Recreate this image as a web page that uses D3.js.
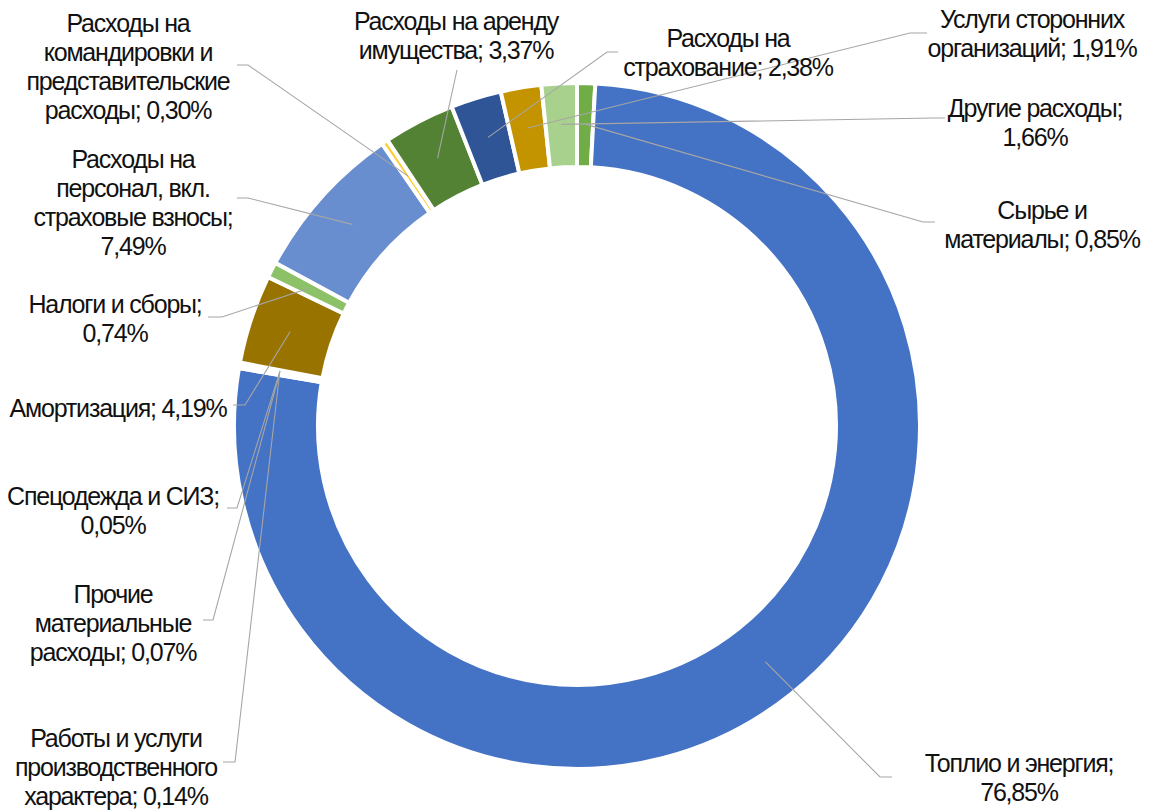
<!DOCTYPE html>
<html>
<head>
<meta charset="utf-8">
<script src="https://cdn.jsdelivr.net/npm/d3@7"></script>
<style>
  html, body { margin: 0; padding: 0; background: #fff; }
  svg { display: block; }
  text { font-family: "Liberation Sans", Arial, sans-serif; }
</style>
</head>
<body>
<svg id="chart" width="1149" height="811"></svg>
<script>
// ---- data ----
const categories = [
  "Сырье и материалы",
  "Топлио и энергия",
  "Работы и услуги производственного характера",
  "Прочие материальные расходы",
  "Спецодежда и СИЗ",
  "Амортизация",
  "Налоги и сборы",
  "Расходы на персонал, вкл. страховые взносы",
  "Расходы на командировки и представительские расходы",
  "Расходы на аренду имущества",
  "Расходы на страхование",
  "Услуги сторонних организаций",
  "Другие расходы"
];
const values = [0.85, 76.85, 0.14, 0.07, 0.05, 4.19, 0.74, 7.49, 0.30, 3.37, 2.38, 1.91, 1.66];
// words per label line (label text = "name; value")
const labelWordsPerLine = [
  [2, 2], [3, 1], [3, 1, 2], [1, 1, 2], [3, 1], [2], [3, 1],
  [2, 2, 2, 1], [2, 2, 1, 2], [3, 2], [2, 2], [2, 2], [2, 1]
];
const colors = [
  "#70AD47", "#4472C4", "#FFC000", "#43682B", "#264478", "#997300", "#8CC168",
  "#698ED0", "#FFCD33", "#548235", "#2F5597", "#C49400", "#A9D18E"
];

// ---- layout (label placement, like manually positioned Excel labels) ----
const labelLayout = [
  {cx: 1042, cy: 224, ax: 935, ay: 222, ex: 923},
  {cx: 1019, cy: 777, ax: 892, ay: 777, ex: 880},
  {cx: 116,  cy: 767, ax: 223, ay: 762, ex: 235},
  {cx: 113,  cy: 623, ax: 203, ay: 620, ex: 213},
  {cx: 113,  cy: 510, ax: 227, ay: 508, ex: 237},
  {cx: 118,  cy: 408, ax: 233, ay: 405, ex: 245},
  {cx: 115,  cy: 318, ax: 208, ay: 317, ex: 222},
  {cx: 133,  cy: 202, ax: 237, ay: 198, ex: 248},
  {cx: 128,  cy: 66,  ax: 237, ay: 65,  ex: 248},
  {cx: 456,  cy: 35,  ax: 457, ay: 70,  ex: null},
  {cx: 728,  cy: 52,  ax: 618, ay: 52,  ex: 607},
  {cx: 1032, cy: 33,  ax: 927, ay: 33,  ex: 910},
  {cx: 1035, cy: 122, ax: 945, ay: 118, ex: 933}
];

const W = 1149, H = 811;
const CX = 577, CY = 426, R_OUT = 343, R_IN = 259, R_LEAD = 302;
const FONT = 25, LINE_H = 29;

const data = categories.map((c, i) => ({ name: c, value: values[i], color: colors[i], idx: i }));

const svg = d3.select("#chart");
svg.append("rect").attr("width", W).attr("height", H).attr("fill", "#fff");

const pie = d3.pie().sort(null).value(d => d.value).startAngle(0).endAngle(2 * Math.PI);
const arcs = pie(data);
const arc = d3.arc().innerRadius(R_IN).outerRadius(R_OUT);
const leadArc = d3.arc().innerRadius(R_LEAD).outerRadius(R_LEAD);

const g = svg.append("g").attr("transform", `translate(${CX},${CY})`);
g.selectAll("path.slice")
  .data(arcs)
  .join("path")
  .attr("class", "slice")
  .attr("d", arc)
  .attr("fill", d => d.data.color)
  .attr("stroke", "#fff")
  .attr("stroke-width", 4)
  .attr("stroke-linejoin", "miter");

const fmt = v => v.toFixed(2).replace(".", ",") + "%";

// leader lines
const lines = svg.append("g");
arcs.forEach((a, i) => {
  const L = labelLayout[i];
  const c = leadArc.centroid(a);
  const p0 = [CX + c[0], CY + c[1]];
  const pts = [p0];
  if (L.ex !== null) pts.push([L.ex, L.ay]);
  pts.push([L.ax, L.ay]);
  lines.append("path")
    .attr("d", d3.line()(pts))
    .attr("fill", "none")
    .attr("stroke", "#A6A6A6")
    .attr("stroke-width", 1.1);
});

// labels
const labels = svg.append("g");
arcs.forEach((a, i) => {
  const L = labelLayout[i];
  const full = a.data.name + "; " + fmt(a.data.value);
  const words = full.split(" ");
  const counts = labelWordsPerLine[i];
  const textLines = [];
  let k = 0;
  counts.forEach(n => { textLines.push(words.slice(k, k + n).join(" ")); k += n; });
  const n = textLines.length;
  const y0 = L.cy - (n - 1) * LINE_H / 2 + 9;
  const t = labels.append("text")
    .attr("text-anchor", "middle")
    .attr("font-size", FONT)
    .attr("letter-spacing", "-1.2px")
    .attr("fill", "#111");
  textLines.forEach((s, j) => {
    t.append("tspan").attr("x", L.cx).attr("y", y0 + j * LINE_H).text(s);
  });
});
</script>
</body>
</html>
